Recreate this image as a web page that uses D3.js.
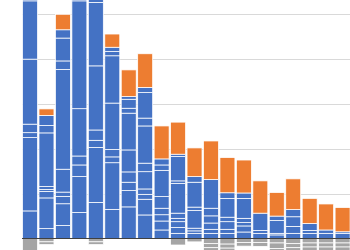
<!DOCTYPE html>
<html>
<head>
<meta charset="utf-8">
<script src="https://cdn.jsdelivr.net/npm/d3@7"></script>
<style>
	body { margin: 0; background: #fff; }
	svg { display: block; }
</style>
</head>
<body>
<svg id="stackedBar" width="350" height="250"></svg>
<script>
// categories (no labels shown on the cropped chart)
var categories = ["c1","c2","c3","c4","c5","c6","c7","c8","c9","c10","c11","c12","c13","c14","c15","c16","c17","c18","c19","c20"];

// blue pieces, bottom to top
var blueParts = [
	[12.3, 32.7, 2.2, 3.8, 29, 26, 6],
	[4.4, 13.7, 2.9, 0.9, 1.3, 23.9, 3.3, 4.5],
	[5.8, 9.7, 3.3, 1.9, 10.2, 44.5, 3.8, 10.2, 3.7],
	[11.6, 16, 5.2, 4, 21.1, 48.1, 8],
	[16.1, 24.5, 3.2, 4.6, 28.6, 28.3, 6],
	[13, 20.8, 2.6, 3.3, 20.7, 21.1, 1.9, 1.9],
	[14.1, 7.3, 3.7, 4.6, 9.8, 16.4, 2.2, 4.0, 1.2],
	[10.5, 7, 2.2, 2.4, 7.7, 3.8, 16.6, 3.5, 11.4, 2.3],
	[3.8, 4.0, 2.8, 2.9, 5.2, 11.7, 2.4, 2.7],
	[2.3, 2.6, 2.6, 1.5, 2.3, 13.3, 1.1, 10.9, 1.0],
	[2.3, 1.1, 1.2, 7.9, 1.5, 11.1, 2.5],
	[2.3, 1.8, 2.8, 3.2, 3.4, 12.8],
	[2.3, 1.8, 3.4, 2.0, 8.4, 2.5],
	[2.9, 2.7, 1.5, 1.9, 8.9, 2.4],
	[2.3, 1.3, 7.7],
	[1.6, 0.7, 5.7, 2.0],
	[2.3, 3.1, 4.3, 3.2],
	[2.3, 1.3, 3.1],
	[2.3, 1.5],
	[2.3, 0.7]
];

// orange piece on top of each bar
var orangeTop = [8, 2.9, 6.9, 6, 5, 5.9, 11.9, 15, 14.7, 14.3, 12.8, 17.2, 15.7, 14.7, 14.4, 10.5, 13.7, 11.2, 11.6, 10.8];

// gray pieces below zero (magnitudes)
var grayParts = [
	[6], [1.5, 1.2], [], [], [1.5, 1.2], [], [], [], [], [2.9],
	[1.5], [2.3, 1.8, 1.5], [2.5, 1.8, 1.5], [1.8, 1.6], [1.8, 1.7],
	[2.0, 2.5, 1.5], [2.3, 1.8, 1.5], [2.0, 1.8, 1.5], [2.0, 1.8, 1.5], [2.0, 1.8, 1.5]
];

var yTicks = [20, 40, 60, 80, 100];

var svg = d3.select("#stackedBar");

var x = d3.scaleBand()
	.domain(categories)
	.range([21.8, 350.8])
	.paddingInner(0.09)
	.paddingOuter(0.045);

var y = d3.scaleLinear()
	.domain([0, 100])
	.range([238.5, 14.3]);

// gridlines
svg.append("g")
	.selectAll("line")
	.data(yTicks)
	.enter()
	.append("line")
		.attr("x1", 22)
		.attr("x2", 350)
		.attr("y1", function(d) { return Math.round(y(d)) + 0.5; })
		.attr("y2", function(d) { return Math.round(y(d)) + 0.5; })
		.attr("stroke", "#d9d9d9")
		.attr("stroke-width", 1);

// build segments
var segs = [];
categories.forEach(function(c, i) {
	var base = 0;
	blueParts[i].forEach(function(v) {
		segs.push({cat: c, y0: base, y1: base + v, fill: "#4472c4"});
		base += v;
	});
	segs.push({cat: c, y0: base, y1: base + orangeTop[i], fill: "#ed7d31"});
	var neg = 0;
	grayParts[i].forEach(function(v) {
		segs.push({cat: c, y0: neg - v, y1: neg, fill: "#a5a5a5"});
		neg -= v;
	});
});

svg.append("g")
	.selectAll("rect")
	.data(segs)
	.enter()
	.append("rect")
		.attr("x", function(d) { return x(d.cat); })
		.attr("width", x.bandwidth())
		.attr("y", function(d) { return y(d.y1); })
		.attr("height", function(d) { return y(d.y0) - y(d.y1); })
		.attr("fill", function(d) { return d.fill; })
		.attr("stroke", "#fff")
		.attr("stroke-width", 0.75);

// zero line
svg.append("line")
	.attr("x1", 22)
	.attr("x2", 350)
	.attr("y1", y(0))
	.attr("y2", y(0))
	.attr("stroke", "#404040")
	.attr("stroke-width", 1);
</script>
</body>
</html>
